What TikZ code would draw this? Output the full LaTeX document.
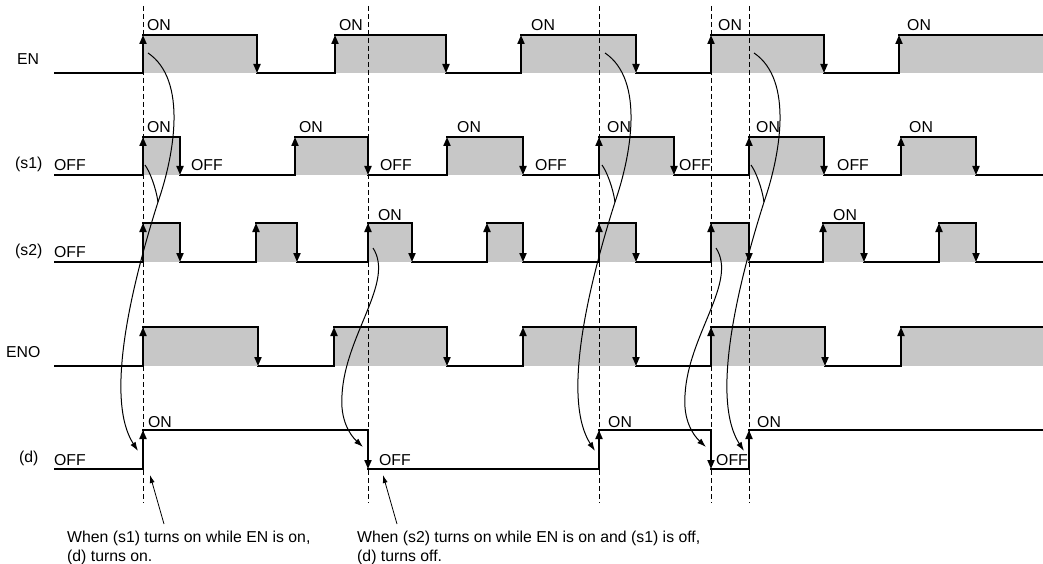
\documentclass[tikz,border=0pt]{standalone}
\usepackage{fontspec}
\setmainfont{Liberation Sans}
\usetikzlibrary{arrows.meta}
\newcommand\tpulse[4]{%
  \fill[hifill] (#1,#3) rectangle (#2,#4);
  \draw[sig] (#1,#3) -- (#2,#3);
  \draw[edgearr] (#1,#4) -- (#1,#3);
  \draw[edgearr] (#2,#3) -- (#2,#4);}
\newcommand\tlast[3]{%
  \fill[hifill] (#1,#2) rectangle (1043,#3);
  \draw[sig] (#1,#2) -- (1043,#2);
  \draw[edgearr] (#1,#3) -- (#1,#2);}
\newcommand\tlow[3]{\draw[sig] (#1,#3) -- (#2,#3);}
\newcommand\riseGroup[2]{%
  \begin{scope}[xshift=#2pt]
    \coordinate (ra#1) at (148,53);
    \coordinate (rj#1) at (158,202);
    \coordinate (rs#1) at (145,165);
    \coordinate (re#1) at (138,451);
    \draw[curarr] (ra#1) .. controls (188,80) and (174,156) .. (rj#1)
       .. controls (130,290) and (105,400) .. (re#1);
    \draw[cur] (rs#1) .. controls (150,172) and (156,188) .. (rj#1);
  \end{scope}}
\newcommand\fallGroup[2]{%
  \begin{scope}[xshift=#2pt]
    \coordinate (fa#1) at (373,248);
    \coordinate (fm#1) at (342,395);
    \coordinate (fe#1) at (363,447);
    \draw[curarr] (fa#1) .. controls (395,282) and (345,335) .. (fm#1)
       .. controls (340,420) and (350,435) .. (fe#1);
  \end{scope}}
\begin{document}
\begin{tikzpicture}[x=1pt,y=-1pt,
  every node/.style={inner sep=0pt,font=\fontsize{15.8}{19}\selectfont},
  lbl/.style={anchor=base west},
  sig/.style={line width=1.9pt,line cap=rect},
  hifill/.style={fill=black!22},
  edgearr/.style={line width=1.9pt,-{Triangle[length=9pt,width=7pt]}},
  dashline/.style={line width=1pt,dash pattern=on 5pt off 3pt},
  cur/.style={line width=1pt},
  curarr/.style={cur,-{Latex[length=9pt,width=6pt]}},
  notearr/.style={line width=0.8pt,-{Latex[length=8pt,width=5pt]}}]
\useasboundingbox (0,0) rectangle (1043,564);

% ---- EN ----
\tlow{55}{143}{73}\tlow{257}{335}{73}\tlow{446}{521}{73}\tlow{636}{711}{73}\tlow{824}{899}{73}
\tpulse{143}{257}{35}{73}\tpulse{335}{446}{35}{73}\tpulse{521}{636}{35}{73}\tpulse{711}{824}{35}{73}
\tlast{899}{35}{73}
% ---- s1 ----
\tlow{55}{143}{175}\tlow{180}{295}{175}\tlow{368}{447}{175}\tlow{523}{599}{175}\tlow{674}{749}{175}\tlow{824}{901}{175}\tlow{976}{1043}{175}
\tpulse{143}{180}{137}{175}\tpulse{295}{368}{137}{175}\tpulse{447}{523}{137}{175}\tpulse{599}{674}{137}{175}\tpulse{749}{824}{137}{175}\tpulse{901}{976}{137}{175}
% ---- s2 ----
\tlow{55}{143}{262}\tlow{180}{256}{262}\tlow{297}{368}{262}\tlow{412}{487}{262}\tlow{523}{599}{262}\tlow{636}{711}{262}\tlow{749}{823}{262}\tlow{864}{939}{262}\tlow{976}{1043}{262}
\tpulse{143}{180}{223}{262}\tpulse{256}{297}{223}{262}\tpulse{368}{412}{223}{262}\tpulse{487}{523}{223}{262}\tpulse{599}{636}{223}{262}\tpulse{711}{749}{223}{262}\tpulse{823}{864}{223}{262}\tpulse{939}{976}{223}{262}
% ---- ENO ----
\tlow{55}{143}{366}\tlow{258}{334}{366}\tlow{447}{523}{366}\tlow{636}{711}{366}\tlow{825}{901}{366}
\tpulse{143}{258}{327}{366}\tpulse{334}{447}{327}{366}\tpulse{523}{636}{327}{366}\tpulse{711}{825}{327}{366}
\tlast{901}{327}{366}
% ---- d ----
\tlow{55}{143}{469}\tlow{368}{599}{469}\tlow{711}{749}{469}
\draw[sig] (143,430) -- (368,430);
\draw[sig] (599,430) -- (711,430);
\draw[sig] (749,430) -- (1043,430);
\draw[edgearr] (143,469) -- (143,430);
\draw[edgearr] (368,430) -- (368,469);
\draw[edgearr] (599,469) -- (599,430);
\draw[edgearr] (711,430) -- (711,469);
\draw[edgearr] (749,469) -- (749,430);

% ---- dashed time marks ----
\foreach \x in {143,368,599,711,749} \draw[dashline] (\x,6) -- (\x,503);

% ---- row labels ----
\node[lbl] (lEN) at (17,65) {EN};
\node[lbl] (ls1) at (15,169) {(s1)};
\node[lbl] (ls2) at (15,255) {(s2)};
\node[lbl] (lENO) at (6,357) {ENO};
\node[lbl] (ld) at (19,462) {(d)};

% ---- state labels ----
\node[lbl] (en1) at (147,31) {ON};
\node[lbl] (en2) at (339,31) {ON};
\node[lbl] (en3) at (531,31) {ON};
\node[lbl] (en4) at (718,31) {ON};
\node[lbl] (en5) at (907,31) {ON};
\node[lbl] (s1on1) at (147,133) {ON};
\node[lbl] (s1on2) at (299,133) {ON};
\node[lbl] (s1on3) at (457,133) {ON};
\node[lbl] (s1on4) at (607,133) {ON};
\node[lbl] (s1on5) at (756,133) {ON};
\node[lbl] (s1on6) at (909,133) {ON};
\node[lbl] (s1off0) at (54,171) {OFF};
\node[lbl] (s1off1) at (191,171) {OFF};
\node[lbl] (s1off2) at (380,171) {OFF};
\node[lbl] (s1off3) at (535,171) {OFF};
\node[lbl] (s1off4) at (679,171) {OFF};
\node[lbl] (s1off5) at (837,171) {OFF};
\node[lbl] (s2off0) at (54,257) {OFF};
\node[lbl] (s2on1) at (378,220) {ON};
\node[lbl] (s2on2) at (833,220) {ON};
\node[lbl] (doff0) at (54,465) {OFF};
\node[lbl] (don1) at (148,427) {ON};
\node[lbl] (doff1) at (379,465) {OFF};
\node[lbl] (don2) at (608,427) {ON};
\node[lbl] (doff2) at (716,465) {OFF};
\node[lbl] (don3) at (757,427) {ON};

% ---- cause arrows ----
\riseGroup{1}{0}
\riseGroup{3}{457}
\riseGroup{5}{606}
\fallGroup{2}{0}
\fallGroup{4}{343}

% ---- notes ----
\node[lbl] (n1a) at (67,542) {When (s1) turns on while EN is on,};
\node[lbl] (n1b) at (67,561) {(d) turns on.};
\node[lbl] (n2a) at (357,542) {When (s2) turns on while EN is on and (s1) is off,};
\node[lbl] (n2b) at (357,561) {(d) turns off.};
\coordinate (n1s) at (164,524);
\coordinate (n1e) at (150,475);
\coordinate (n2s) at (397,524);
\coordinate (n2e) at (383,475);
\draw[notearr] (n1s) -- (n1e);
\draw[notearr] (n2s) -- (n2e);
\end{tikzpicture}
\end{document}
